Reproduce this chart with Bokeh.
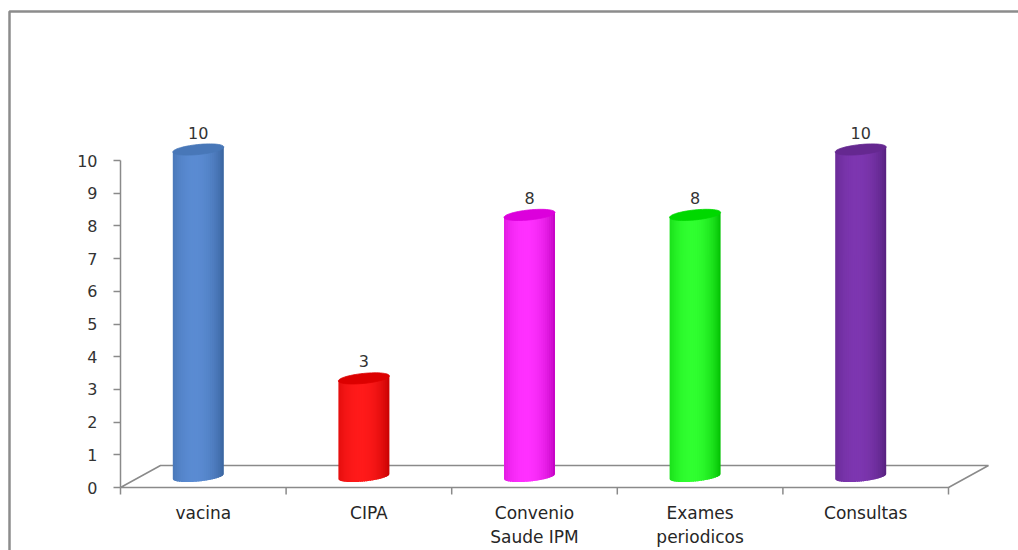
import numpy as np
from bokeh.plotting import figure
from bokeh.models import Range1d, FixedTicker, LinearAxis
from bokeh.core.properties import value
from bokeh.embed import file_html
from bokeh.resources import INLINE

# --- data -------------------------------------------------------------
categories = ["vacina", "CIPA", "Convenio\nSaude IPM", "Exames\nperiodicos", "Consultas"]
counts = [10, 3, 8, 8, 10]
y_ticks = [0, 1, 2, 3, 4, 5, 6, 7, 8, 9, 10]

# cylinder shading: side edge, lit centre, top cap
edge_colors = ["#38629c", "#c40000", "#c000c0", "#00bc00", "#54207c"]
mid_colors = ["#5a8bd2", "#ff1a1a", "#ff30ff", "#30ff30", "#7d36b0"]
cap_colors = ["#4877b8", "#dc0000", "#dc00dc", "#00d800", "#652890"]

# --- layout constants (pixels per data unit) --------------------------
PX_X = 165.6          # one category slot
PX_Y = 32.7           # one count
X0_PX = 120           # pixel column of the value axis
Y0_PX = 487           # pixel row of the zero line
W, H = 1018, 550

DEPTH_X = 40 / PX_X   # floor depth, horizontal component
DEPTH_Y = 22 / PX_Y   # floor depth, vertical component
BASE_Y = 11 / PX_Y    # cylinders stand in the middle of the floor
SHIFT_X = -5 / PX_X
HALF_W = 25.5 / PX_X  # cylinder radius
ELL_B = 5 / PX_Y      # ellipse half-height
SHEAR = 2.5 / PX_Y    # slight tilt of the ellipses

x_lo, x_hi = -X0_PX / PX_X, (W - X0_PX) / PX_X
y_lo, y_hi = -(H - Y0_PX) / PX_Y, Y0_PX / PX_Y

p = figure(
    width=W, height=H,
    x_range=Range1d(x_lo, x_hi), y_range=Range1d(y_lo, y_hi),
    output_backend="svg", toolbar_location=None,
    min_border_left=0, min_border_right=0,
    min_border_top=0, min_border_bottom=0,
    x_axis_location=None, y_axis_location=None,
)
p.outline_line_color = None
p.background_fill_color = "white"
p.border_fill_color = "white"
p.xgrid.visible = False
p.ygrid.visible = False

GRAY = "#8a8a8a"

# value axis, pinned at x = 0 inside the plot
ya = LinearAxis(fixed_location=0, bounds=(0, 10),
                ticker=FixedTicker(ticks=y_ticks))
ya.minor_tick_line_color = None
ya.major_tick_in = 0
ya.major_tick_out = 7
ya.axis_line_color = GRAY
ya.axis_line_width = 1.5
ya.major_tick_line_color = GRAY
ya.major_tick_line_width = 1.5
ya.major_label_standoff = 16
ya.major_label_text_font = "DejaVu Sans"
ya.major_label_text_font_size = "16px"
ya.major_label_text_color = "#333333"
p.add_layout(ya, "left")

n = len(categories)

# outer chart frame (top and left edges)
fx = x_lo + 9 / PX_X
fy = y_hi - 11 / PX_Y
p.line([fx, fx, x_hi], [y_lo, fy, fy], line_color="#8c8c8c", line_width=2.5)

# floor of the 3-D plot area
p.patch([0, n, n + DEPTH_X, DEPTH_X], [0, 0, DEPTH_Y, DEPTH_Y],
        fill_color="white", line_color=GRAY, line_width=1.5)

# category tick marks on the front edge
bx = list(range(n + 1))
p.segment(x0=bx, y0=[0] * len(bx), x1=bx, y1=[-7 / PX_Y] * len(bx),
          line_color=GRAY, line_width=1.5)


def hex_rgb(h):
    h = h.lstrip("#")
    return np.array([int(h[k:k + 2], 16) for k in (0, 2, 4)], dtype=float)


def mix(c0, c1, t):
    c = hex_rgb(c0) + (hex_rgb(c1) - hex_rgb(c0)) * t
    return "#%02x%02x%02x" % tuple(int(round(v)) for v in c)


# cylinders, built from overlapping vertical shaded strips
NSTRIP = 26
edges_u = np.linspace(-1, 1, NSTRIP + 1)
sx, sy, sc = [], [], []
cap_x, cap_y = [], []
lab_x, lab_y = [], []
for i, v in enumerate(counts):
    xc = i + 0.5 + SHIFT_X
    y0 = BASE_Y
    y1 = BASE_Y + v
    for k in range(NSTRIP):
        ua = edges_u[k]
        ub = min(1.0, edges_u[k + 1] + 0.05)
        u = np.linspace(ua, ub, 8)
        xs = xc + HALF_W * u
        top = y1 + SHEAR * u
        bot = y0 + SHEAR * u - ELL_B * np.sqrt(np.clip(1 - u ** 2, 0, 1))
        sx.append(np.concatenate([xs, xs[::-1]]))
        sy.append(np.concatenate([top, bot[::-1]]))
        uc = 0.5 * (edges_u[k] + edges_u[k + 1])
        w = max(0.0, 1 - ((uc + 0.15) / 1.15) ** 2) ** 0.8
        sc.append(mix(edge_colors[i], mid_colors[i], w))
    t = np.linspace(0, 2 * np.pi, 60)
    cap_x.append(xc + HALF_W * np.cos(t))
    cap_y.append(y1 + SHEAR * np.cos(t) + ELL_B * np.sin(t))
    lab_x.append(xc)
    lab_y.append(y1 + 11 / PX_Y)

p.patches(xs=sx, ys=sy, fill_color=sc, line_color=None)
p.patches(xs=cap_x, ys=cap_y, fill_color=cap_colors,
          line_color=cap_colors, line_width=0.8)

# value labels
p.text(x=lab_x, y=lab_y, text=[str(v) for v in counts],
       text_font=value("DejaVu Sans"), text_font_size="16px",
       text_color="#333333", text_align="center",
       text_baseline="bottom")

# category labels
p.text(x=[i + 0.5 for i in range(n)], y=[-15 / PX_Y] * n, text=categories,
       text_font=value("DejaVu Sans"), text_font_size="17px",
       text_color="#262626", text_align="center", text_baseline="top",
       text_line_height=1.2)

open("out.html", "w").write(file_html(p, INLINE))
